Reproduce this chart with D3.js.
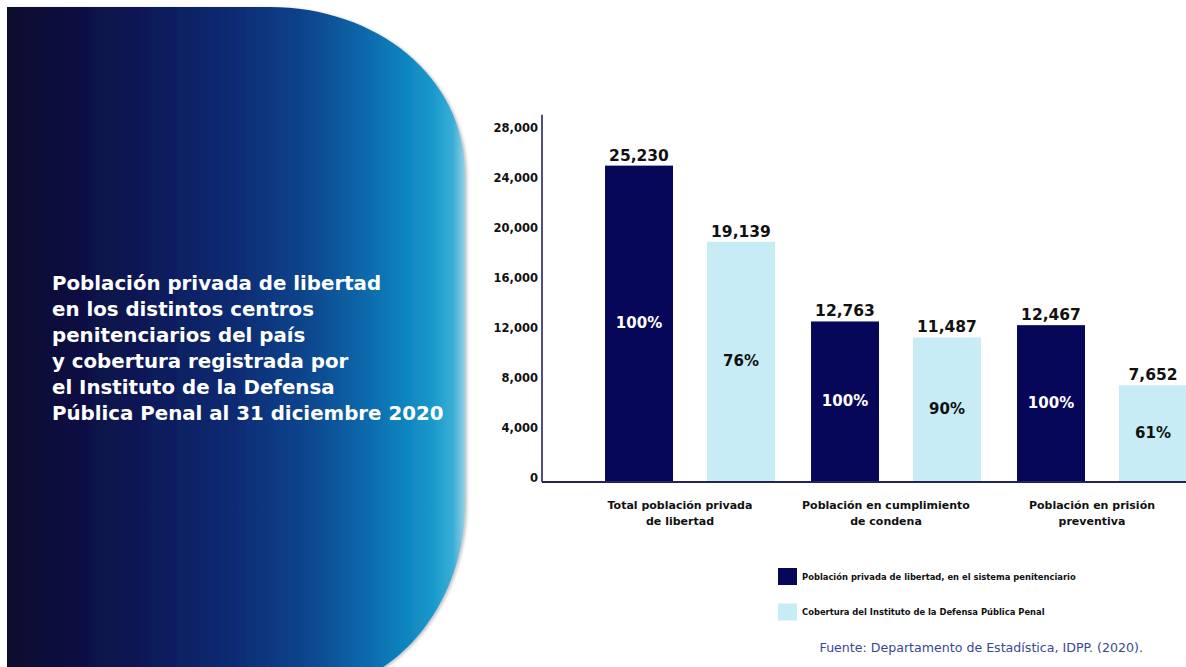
<!DOCTYPE html>
<html>
<head>
<meta charset="utf-8">
<script src="https://cdn.jsdelivr.net/npm/d3@7"></script>
<style>
  html, body { margin: 0; padding: 0; background: #ffffff; }
  svg { display: block; }
</style>
</head>
<body>
<svg id="chart" width="1186" height="667"></svg>
<script>
// ---- data ----
const titleLines = [
  "Población privada de libertad",
  "en los distintos centros",
  "penitenciarios del país",
  "y cobertura registrada por",
  "el Instituto de la Defensa",
  "Pública Penal al 31 diciembre 2020"
];
const categories = ["total", "condena", "preventiva"];
const categoryLabels = [
  ["Total población privada", "de libertad"],
  ["Población en cumplimiento", "de condena"],
  ["Población en prisión", "preventiva"]
];
const seriesKeys = ["poblacion", "cobertura"];
const seriesNames = [
  "Población privada de libertad, en el sistema penitenciario",
  "Cobertura del Instituto de la Defensa Pública Penal"
];
const poblacionValues = [25230, 12763, 12467];
const coberturaValues = [19139, 11487, 7652];
const poblacionPct = ["100%", "100%", "100%"];
const coberturaPct = ["76%", "90%", "61%"];
const yTicks = [0, 4000, 8000, 12000, 16000, 20000, 24000, 28000];
const sourceText = "Fuente: Departamento de Estadística, IDPP. (2020).";

const colors = { poblacion: "#07075a", cobertura: "#c7ecf6" };
const pctColors = { poblacion: "#ffffff", cobertura: "#111111" };

const rows = [];
categories.forEach((c, i) => {
  rows.push({ cat: c, key: "poblacion", value: poblacionValues[i], pct: poblacionPct[i] });
  rows.push({ cat: c, key: "cobertura", value: coberturaValues[i], pct: coberturaPct[i] });
});

const svg = d3.select("#chart");
const FONT = "'DejaVu Sans', sans-serif";

// ---- left decorative panel ----
const defs = svg.append("defs");
const grad = defs.append("linearGradient")
  .attr("id", "panelGrad").attr("gradientUnits", "userSpaceOnUse")
  .attr("x1", 7).attr("x2", 467).attr("y1", 0).attr("y2", 0);
[[0, "#0a0a2e"], [0.25, "#0d1450"], [0.5, "#0c2c74"], [0.66, "#08478f"],
 [0.8, "#0a6fb0"], [0.92, "#1597c9"], [0.97, "#3aaed6"], [1, "#a6d5ea"]]
  .forEach(([o, c]) => grad.append("stop").attr("offset", o).attr("stop-color", c));
const shadow = defs.append("filter").attr("id", "shadow")
  .attr("x", "-5%").attr("y", "-5%").attr("width", "115%").attr("height", "115%");
shadow.append("feDropShadow").attr("dx", 2).attr("dy", 1).attr("stdDeviation", 1.5)
  .attr("flood-color", "#8a8a8a").attr("flood-opacity", 0.5);

const panelPath = d3.path();
panelPath.moveTo(7, 7);
panelPath.lineTo(270, 7);
panelPath.bezierCurveTo(375, 7, 465, 75, 465, 175);
panelPath.lineTo(465, 503);
panelPath.bezierCurveTo(465, 608, 391, 693, 300, 693);
panelPath.lineTo(7, 693);
panelPath.closePath();
svg.append("path").attr("d", panelPath.toString())
  .attr("fill", "url(#panelGrad)").attr("filter", "url(#shadow)");

svg.append("g").selectAll("text").data(titleLines).join("text")
  .attr("x", 52).attr("y", (d, i) => 290 + i * 26)
  .attr("fill", "#ffffff").attr("font-family", FONT).attr("font-weight", "bold")
  .attr("font-size", 19.8).text(d => d);

// ---- scales ----
const y = d3.scaleLinear().domain([0, 28000]).range([481, 131]);
const x0 = d3.scaleBand().domain(categories).range([542, 1250])
  .paddingInner(0.175).paddingOuter(0.306);
const x1 = d3.scaleBand().domain(seriesKeys).range([0, x0.bandwidth()]).paddingInner(1 / 3);

// ---- bars ----
const g = svg.append("g");
g.selectAll("rect.bar").data(rows).join("rect")
  .attr("class", "bar")
  .attr("x", d => x0(d.cat) + x1(d.key))
  .attr("y", d => y(d.value))
  .attr("width", x1.bandwidth())
  .attr("height", d => y(0) - y(d.value))
  .attr("fill", d => colors[d.key]);

// value labels
g.selectAll("text.val").data(rows).join("text")
  .attr("class", "val")
  .attr("x", d => x0(d.cat) + x1(d.key) + x1.bandwidth() / 2)
  .attr("y", d => y(d.value) - 5)
  .attr("text-anchor", "middle").attr("font-family", FONT).attr("font-weight", "bold")
  .attr("font-size", 15.5).attr("fill", "#111111")
  .text(d => d3.format(",")(d.value));

// percentage labels
g.selectAll("text.pct").data(rows).join("text")
  .attr("class", "pct")
  .attr("x", d => x0(d.cat) + x1(d.key) + x1.bandwidth() / 2)
  .attr("y", d => (y(d.value) + y(0)) / 2 + 5)
  .attr("text-anchor", "middle").attr("font-family", FONT).attr("font-weight", "bold")
  .attr("font-size", 15).attr("fill", d => pctColors[d.key])
  .text(d => d.pct);

// ---- axes ----
const yAxis = d3.axisLeft(y).tickValues(yTicks).tickSize(0).tickPadding(4)
  .tickFormat(d3.format(","));
const yg = svg.append("g").attr("transform", "translate(542,0)").call(yAxis);
yg.select(".domain").remove();
yg.selectAll("text").attr("font-family", FONT).attr("font-weight", "bold")
  .attr("font-size", 11.5).attr("fill", "#111111").attr("dy", "0.05em");

// axis lines
svg.append("line").attr("x1", 542).attr("x2", 542)
  .attr("y1", y(0) + 1).attr("y2", y(29300))
  .attr("stroke", "#25235e").attr("stroke-width", 1.6);
svg.append("line").attr("x1", 542).attr("x2", 1186)
  .attr("y1", y(0) + 1).attr("y2", y(0) + 1)
  .attr("stroke", "#25235e").attr("stroke-width", 2);

// category labels
const catG = svg.append("g");
categories.forEach((c, i) => {
  const t = catG.append("text")
    .attr("x", x0(c) + x0.bandwidth() / 2 - 10)
    .attr("y", 509)
    .attr("text-anchor", "middle").attr("font-family", FONT).attr("font-weight", "bold")
    .attr("font-size", 11).attr("fill", "#111111");
  categoryLabels[i].forEach((line, j) => {
    t.append("tspan").attr("x", x0(c) + x0.bandwidth() / 2 - 10)
      .attr("dy", j === 0 ? 0 : 16).text(line);
  });
});

// ---- legend ----
const legend = svg.append("g").attr("transform", "translate(778,568)");
seriesKeys.forEach((k, i) => {
  const row = legend.append("g").attr("transform", `translate(0,${i * 35.5})`);
  row.append("rect").attr("width", 19).attr("height", 17).attr("fill", colors[k]);
  row.append("text").attr("x", 24).attr("y", 11.5)
    .attr("font-family", FONT).attr("font-weight", "bold").attr("font-size", 8.4)
    .attr("fill", "#111111").text(seriesNames[i]);
});

// source
svg.append("text").attr("x", 1143).attr("y", 652).attr("text-anchor", "end")
  .attr("font-family", FONT).attr("font-size", 12.6).attr("fill", "#3a4796")
  .text(sourceText);
</script>
</body>
</html>
